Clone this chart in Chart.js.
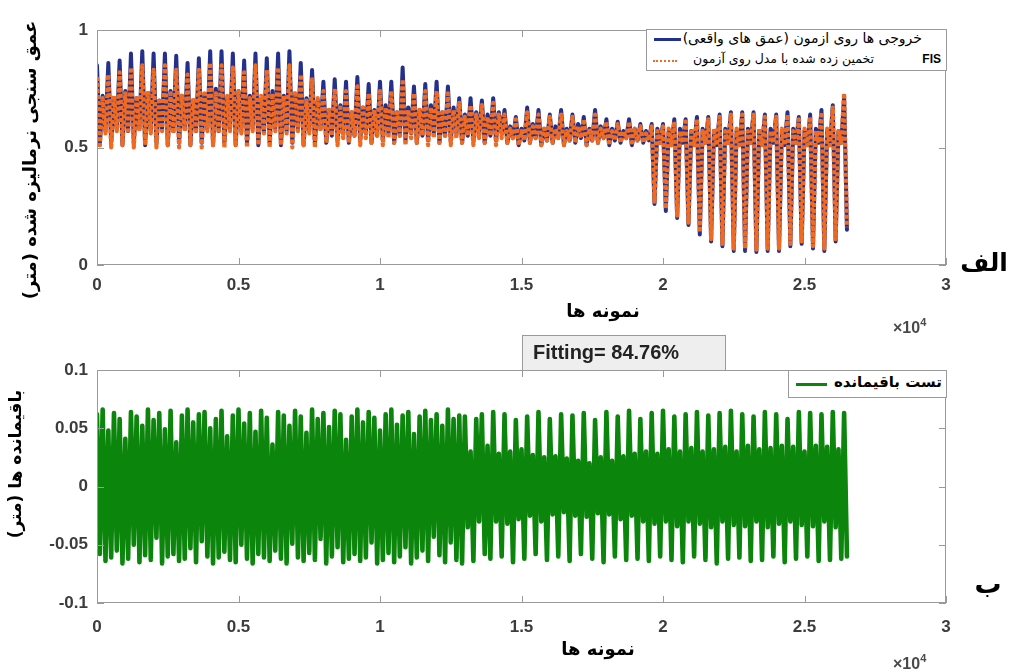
<!DOCTYPE html>
<html>
<head>
<meta charset="utf-8">
<script src="https://cdn.jsdelivr.net/npm/chart.js@4.4.1/dist/chart.umd.min.js"></script>
<style>
    body { margin: 0; background: #fff; }
    #page { position: relative; width: 1014px; height: 672px; overflow: hidden; background: #fff; font-family: 'DejaVu Sans', sans-serif; }
    canvas { position: absolute; left: 0; }
    .txt { position: absolute; white-space: nowrap; color: #000; }
    .fa { direction: rtl; font-family: 'DejaVu Sans', sans-serif; font-weight: bold; }
    .rot { transform: translate(-50%, -50%) rotate(-90deg); }
    .ctr { transform: translate(-50%, -50%); }
    .box { position: absolute; border: 1px solid #9a9a9a; background: #fff; box-sizing: border-box; }
    .exp { font-family: 'Liberation Sans', Arial, sans-serif; font-weight: bold; font-size: 16px; color: #4a4a4a; }
    .exp sup { font-size: 11px; vertical-align: 7px; }
</style>
</head>
<body>
<div id="page">
    <canvas id="chartTop" width="1014" height="330" style="top:0"></canvas>
    <canvas id="chartBottom" width="1014" height="337" style="top:335px"></canvas>

    <div class="txt fa rot" style="left:29px; top:160px; font-size:18px;">عمق سنجی نرمالیزه شده (متر)</div>
    <div class="txt fa rot" style="left:15px; top:464px; font-size:17px;">باقیمانده ها (متر)</div>
    <div class="txt fa ctr" style="left:603px; top:310px; font-size:18px;">نمونه ها</div>
    <div class="txt fa ctr" style="left:598px; top:648px; font-size:18px;">نمونه ها</div>
    <div class="txt fa ctr" style="left:984px; top:262px; font-size:25px;">الف</div>
    <div class="txt fa ctr" style="left:988px; top:583px; font-size:27px;">ب</div>
    <div class="txt exp" style="left:893px; top:316px;">×10<sup>4</sup></div>
    <div class="txt exp" style="left:893px; top:652px;">×10<sup>4</sup></div>

    <div class="box" style="left:646px; top:29px; width:301px; height:42px;">
        <div style="position:absolute; left:7px; top:8px; width:27px; border-top:3px solid #24318c;"></div>
        <div class="txt" style="right:24px; top:0px; font-size:14px; direction:rtl; font-family:'DejaVu Sans';">خروجی ها روی ازمون (عمق های واقعی)</div>
        <div style="position:absolute; left:6px; top:30px; width:24px; border-top:2px dotted #f06a22;"></div>
        <div class="txt" style="right:72px; top:21px; font-size:12.5px; direction:rtl; font-family:'DejaVu Sans';">تخمین زده شده با مدل روی آزمون</div>
        <div class="txt" style="right:5px; top:22px; font-size:12px; font-weight:bold; font-family:'Liberation Sans';">FIS</div>
    </div>

    <div class="box" style="left:788px; top:370px; width:159px; height:28px;">
        <div style="position:absolute; left:7px; top:12px; width:31px; border-top:3px solid #0b850b;"></div>
        <div class="txt fa" style="right:4px; top:2px; font-size:15px;">تست باقیمانده</div>
    </div>

    <div class="box" style="left:522px; top:335px; width:204px; height:36px; background:#eeeeee;">
        <div class="txt" style="left:10px; top:5px; font-size:20px; font-weight:bold; color:#222; font-family:'Liberation Sans', Arial, sans-serif;">Fitting= 84.76%</div>
    </div>
</div>

<script>
// one value every 100 samples
const SAMPLE_STEP = 100;

const xTickValues = [0, 5000, 10000, 15000, 20000, 25000, 30000];
const xTickLabels = ['0', '0.5', '1', '1.5', '2', '2.5', '3'];
const topYTickValues = [0, 0.5, 1];
const topYTickLabels = ['0', '0.5', '1'];
const bottomYTickValues = [-0.1, -0.05, 0, 0.05, 0.1];
const bottomYTickLabels = ['-0.1', '-0.05', '0', '0.05', '0.1'];

const seriesNames = ['خروجی ها روی ازمون (عمق های واقعی)', 'تخمین زده شده با مدل روی آزمون FIS', 'تست باقیمانده'];

// measured depth (normalised)
const actualDepth = [
    0.85,0.51,0.72,0.57, 0.86,0.52,0.70,0.58, 0.87,0.51,0.74,0.57, 0.90,0.52,0.71,0.58,
    0.91,0.51,0.73,0.57, 0.90,0.52,0.70,0.58, 0.90,0.51,0.74,0.57, 0.89,0.52,0.72,0.58,
    0.86,0.51,0.70,0.57, 0.88,0.52,0.73,0.58, 0.91,0.51,0.75,0.57, 0.91,0.52,0.71,0.58,
    0.90,0.51,0.74,0.57, 0.87,0.52,0.72,0.58, 0.90,0.51,0.70,0.57, 0.88,0.52,0.74,0.58,
    0.90,0.51,0.72,0.57, 0.91,0.52,0.73,0.58, 0.86,0.51,0.71,0.57, 0.83,0.52,0.70,0.58,
    0.78,0.52,0.66,0.55, 0.79,0.53,0.68,0.56, 0.78,0.52,0.65,0.55, 0.80,0.53,0.67,0.56,
    0.77,0.52,0.66,0.55, 0.78,0.53,0.68,0.56, 0.78,0.52,0.65,0.55, 0.84,0.53,0.67,0.56,
    0.76,0.52,0.66,0.55, 0.77,0.53,0.68,0.56, 0.78,0.52,0.65,0.55, 0.76,0.53,0.67,0.56,
    0.71,0.52,0.64,0.55, 0.71,0.53,0.65,0.56, 0.70,0.52,0.64,0.55, 0.71,0.53,0.65,0.56,
    0.66,0.52,0.59,0.54, 0.63,0.51,0.58,0.53, 0.67,0.52,0.60,0.54, 0.66,0.51,0.58,0.53,
    0.64,0.52,0.59,0.54, 0.66,0.51,0.58,0.53, 0.64,0.52,0.60,0.54, 0.63,0.51,0.58,0.53,
    0.66,0.52,0.59,0.54, 0.62,0.51,0.58,0.53, 0.61,0.52,0.57,0.54, 0.62,0.51,0.58,0.53,
    0.60,0.52,0.57,0.53,
    0.60,0.26,0.58,0.52, 0.60,0.23,0.57,0.51, 0.62,0.20,0.58,0.52, 0.62,0.17,0.57,0.51,
    0.63,0.13,0.58,0.52, 0.63,0.10,0.57,0.51, 0.64,0.08,0.58,0.52, 0.65,0.06,0.57,0.51,
    0.65,0.06,0.58,0.52, 0.65,0.055,0.57,0.51, 0.64,0.06,0.58,0.52, 0.64,0.06,0.57,0.51,
    0.65,0.08,0.58,0.52, 0.63,0.09,0.57,0.51, 0.64,0.07,0.58,0.52, 0.66,0.06,0.57,0.51,
    0.68,0.10,0.57,0.52, 0.72,0.15
];

// FIS estimate
const estimatedDepth = [
    0.80,0.51,0.71,0.56, 0.81,0.50,0.72,0.57, 0.82,0.51,0.73,0.56, 0.84,0.50,0.72,0.57,
    0.85,0.51,0.74,0.56, 0.83,0.50,0.71,0.57, 0.85,0.51,0.73,0.56, 0.83,0.50,0.72,0.57,
    0.81,0.51,0.71,0.56, 0.83,0.50,0.74,0.57, 0.86,0.51,0.73,0.56, 0.85,0.50,0.72,0.57,
    0.84,0.51,0.74,0.56, 0.82,0.50,0.71,0.57, 0.85,0.51,0.72,0.56, 0.83,0.50,0.73,0.57,
    0.84,0.51,0.72,0.56, 0.85,0.50,0.74,0.57, 0.81,0.51,0.70,0.56, 0.79,0.50,0.71,0.57,
    0.74,0.52,0.66,0.55, 0.75,0.51,0.67,0.54, 0.74,0.52,0.65,0.55, 0.76,0.51,0.67,0.54,
    0.73,0.52,0.66,0.55, 0.74,0.51,0.67,0.54, 0.74,0.52,0.65,0.55, 0.79,0.51,0.66,0.54,
    0.73,0.52,0.66,0.55, 0.74,0.51,0.67,0.54, 0.74,0.52,0.65,0.55, 0.73,0.51,0.66,0.54,
    0.69,0.52,0.63,0.55, 0.68,0.51,0.64,0.54, 0.68,0.52,0.63,0.55, 0.69,0.51,0.64,0.54,
    0.64,0.52,0.58,0.54, 0.62,0.51,0.57,0.53, 0.65,0.52,0.59,0.54, 0.64,0.51,0.58,0.53,
    0.63,0.52,0.58,0.54, 0.64,0.51,0.57,0.53, 0.63,0.52,0.59,0.54, 0.62,0.51,0.58,0.53,
    0.64,0.52,0.58,0.54, 0.61,0.51,0.57,0.53, 0.60,0.52,0.57,0.54, 0.61,0.51,0.58,0.53,
    0.59,0.52,0.56,0.53,
    0.59,0.27,0.57,0.52, 0.59,0.24,0.58,0.51, 0.61,0.21,0.57,0.52, 0.61,0.18,0.58,0.51,
    0.62,0.14,0.57,0.52, 0.62,0.11,0.58,0.51, 0.63,0.09,0.57,0.52, 0.64,0.07,0.58,0.51,
    0.64,0.07,0.57,0.52, 0.64,0.065,0.58,0.51, 0.63,0.07,0.57,0.52, 0.63,0.07,0.58,0.51,
    0.64,0.09,0.57,0.52, 0.62,0.10,0.58,0.51, 0.63,0.08,0.57,0.52, 0.65,0.07,0.58,0.51,
    0.67,0.11,0.57,0.52, 0.73,0.16
];

// test residual (m)
const residual = [
    0.062,-0.058,0.066,-0.064,0.048,-0.061,0.063,-0.055,0.058,-0.066,
    0.041,-0.062,0.064,-0.05,0.06,-0.065,0.052,-0.059,0.066,-0.063,
    0.057,-0.044,0.063,-0.066,0.049,-0.06,0.065,-0.058,0.038,-0.064,
    0.061,-0.062,0.066,-0.053,0.055,-0.065,0.062,-0.047,0.064,-0.06,
    0.05,-0.066,0.058,-0.061,0.065,-0.056,0.043,-0.063,0.061,-0.065,
    0.066,-0.05,0.054,-0.062,0.063,-0.066,0.047,-0.058,0.065,-0.061,
    0.059,-0.064,0.036,-0.055,0.064,-0.062,0.061,-0.066,0.052,-0.049,
    0.065,-0.061,0.06,-0.064,0.046,-0.057,0.066,-0.063,0.058,-0.045,
    0.063,-0.066,0.051,-0.06,0.065,-0.052,0.062,-0.065,0.04,-0.062,
    0.06,-0.058,0.066,-0.064,0.055,-0.061,0.064,-0.048,0.059,-0.066,
    0.048,-0.063,0.062,-0.057,0.066,-0.065,0.053,-0.06,0.061,-0.052,
    0.064,-0.066,0.045,-0.061,0.06,-0.055,0.065,-0.064,0.057,-0.043,
    0.062,-0.059,0.052,-0.065,0.066,-0.048,0.058,-0.063,0.061,-0.066,
    0.06,-0.035,0.03,-0.064,0.058,-0.03,0.062,-0.058,0.035,-0.062,
    0.064,-0.03,0.028,-0.06,0.062,-0.032,0.03,-0.065,0.057,-0.028,
    0.032,-0.062,0.06,-0.025,0.027,-0.058,0.064,-0.03,0.025,-0.063,
    0.058,-0.024,0.026,-0.06,0.062,-0.022,0.024,-0.064,0.061,-0.025,
    0.022,-0.058,0.063,-0.026,0.02,-0.062,0.057,-0.023,0.025,-0.065,
    0.064,-0.024,0.022,-0.06,0.06,-0.028,0.026,-0.063,0.065,-0.025,
    0.028,-0.062,0.058,-0.03,0.03,-0.064,0.063,-0.032,0.028,-0.06,
    0.065,-0.03,0.032,-0.063,0.06,-0.034,0.03,-0.065,0.062,-0.03,
    0.033,-0.06,0.064,-0.032,0.03,-0.063,0.061,-0.035,0.032,-0.066,
    0.063,-0.03,0.034,-0.062,0.065,-0.033,0.03,-0.061,0.062,-0.034,
    0.035,-0.064,0.06,-0.03,0.032,-0.063,0.064,-0.035,0.033,-0.06,
    0.062,-0.032,0.035,-0.065,0.058,-0.03,0.034,-0.062,0.064,-0.033,
    0.03,-0.06,0.063,-0.034,0.035,-0.064,0.062,-0.03,0.034,-0.063,
    0.064,-0.035,0.032,-0.062,0.063,-0.06
];

function toPoints(values){
    return values.map((v, i) => ({ x: i * SAMPLE_STEP, y: v }));
}

// matlab style frame with inward ticks
const axesBox = {
    id: 'axesBox',
    afterDatasetsDraw(chart){
        const { ctx, chartArea: a, scales } = chart;
        ctx.save();
        ctx.strokeStyle = '#9a9a9a';
        ctx.lineWidth = 1;
        ctx.strokeRect(a.left + 0.5, a.top + 0.5, a.width - 1, a.height - 1);
        ctx.beginPath();
        scales.x.ticks.forEach(t => {
            const px = Math.round(scales.x.getPixelForValue(t.value)) + 0.5;
            ctx.moveTo(px, a.bottom); ctx.lineTo(px, a.bottom - 7);
            ctx.moveTo(px, a.top); ctx.lineTo(px, a.top + 7);
        });
        scales.y.ticks.forEach(t => {
            const py = Math.round(scales.y.getPixelForValue(t.value)) + 0.5;
            ctx.moveTo(a.left, py); ctx.lineTo(a.left + 7, py);
            ctx.moveTo(a.right, py); ctx.lineTo(a.right - 7, py);
        });
        ctx.stroke();
        ctx.restore();
    }
};

function makeChart(id, datasets, yValues, yLabels, padTop, xAxisHeight, xTickPad){
    const ctx = document.getElementById(id);
    const tickFont = { family: "'Liberation Sans', Arial, sans-serif", size: 17, weight: 'bold' };

    return new Chart(ctx, {
        type: 'line',
        data: { datasets: datasets },
        plugins: [axesBox],
        options: {
            responsive: false,
            animation: false,
            events: [],
            devicePixelRatio: 1,
            layout: { padding: { top: padTop, right: 68, left: 0, bottom: 0 } },
            elements: {
                point: { radius: 0 },
                line: { tension: 0, borderJoinStyle: 'round', borderCapStyle: 'round' }
            },
            plugins: { legend: { display: false }, tooltip: { enabled: false } },
            scales: {
                x: {
                    type: 'linear',
                    min: 0,
                    max: 30000,
                    grid: { display: false, drawTicks: false },
                    border: { display: false },
                    afterBuildTicks: (s) => { s.ticks = xTickValues.map(v => ({ value: v })); },
                    afterFit: (s) => { s.height = xAxisHeight; },
                    ticks: {
                        padding: xTickPad,
                        maxRotation: 0,
                        autoSkip: false,
                        color: '#3c3c3c',
                        font: tickFont,
                        callback: (v, i) => xTickLabels[i]
                    }
                },
                y: {
                    min: yValues[0],
                    max: yValues[yValues.length - 1],
                    grid: { display: false, drawTicks: false },
                    border: { display: false },
                    afterBuildTicks: (s) => { s.ticks = yValues.map(v => ({ value: v })); },
                    afterFit: (s) => { s.width = 97; },
                    ticks: {
                        padding: 9,
                        color: '#3c3c3c',
                        font: tickFont,
                        callback: (v, i) => yLabels[i]
                    }
                }
            }
        }
    });
}

function getCharts(){
    makeChart('chartTop', [
        {
            label: seriesNames[1],
            data: toPoints(estimatedDepth),
            borderColor: '#f06a22',
            borderWidth: 4.2,
            borderDash: [4, 2],
            borderCapStyle: 'butt',
            order: 0
        },
        {
            label: seriesNames[0],
            data: toPoints(actualDepth),
            borderColor: '#24318c',
            borderWidth: 4,
            order: 1
        }
    ], topYTickValues, topYTickLabels, 30, 65, 10);

    makeChart('chartBottom', [
        {
            label: seriesNames[2],
            data: toPoints(residual),
            borderColor: '#0b850b',
            borderWidth: 4.6,
            order: 0
        }
    ], bottomYTickValues, bottomYTickLabels, 35, 69, 14);
}

document.addEventListener('DOMContentLoaded', (event) => {
    getCharts();
});
</script>
</body>
</html>
